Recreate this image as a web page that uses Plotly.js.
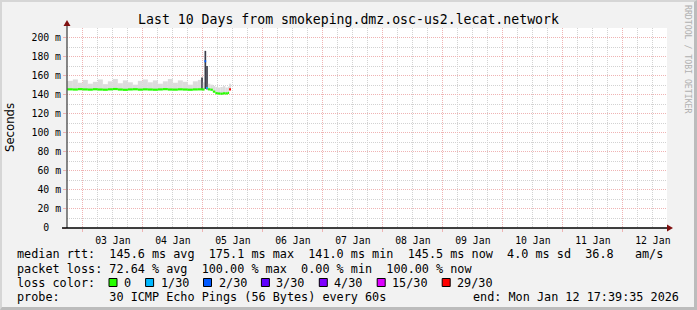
<!DOCTYPE html>
<html><head><meta charset="utf-8">
<script src="https://cdn.plot.ly/plotly-3.0.1.min.js"></script>
<style>
html,body{margin:0;padding:0;background:#f2f2f2;overflow:hidden}
#chart{width:697px;height:310px;position:absolute;left:0;top:0}
#frame{position:absolute;left:0;top:0;width:697px;height:310px;box-sizing:border-box;border:2px solid #d6d6d6;border-right:3px solid #bcbcbc;border-bottom:3px solid #bcbcbc;pointer-events:none}
</style>
</head><body>
<div id="chart"></div><div id="frame"></div>
<script>
// ---- data ----
const titleText = "Last 10 Days from smokeping.dmz.osc-us2.lecat.network";
const yAxisTitle = "Seconds";
const rangeStart = "2026-01-02 17:39:35";
const rangeEnd = "2026-01-12 17:39:35";
const firstMidnight = "2026-01-03 00:00:00";
const yTickVals = [0, 20, 40, 60, 80, 100, 120, 140, 160, 180, 200];
const yTickText = ["0\u00A0\u00A0", "20 m", "40 m", "60 m", "80 m", "100 m", "120 m", "140 m", "160 m", "180 m", "200 m"];

const times = [
  "2026-01-02 17:40", "2026-01-02 20:00", "2026-01-02 22:00",
  "2026-01-03 00:00", "2026-01-03 02:00", "2026-01-03 04:00", "2026-01-03 06:00",
  "2026-01-03 08:00", "2026-01-03 10:00", "2026-01-03 12:00", "2026-01-03 14:00",
  "2026-01-03 16:00", "2026-01-03 18:00", "2026-01-03 20:00", "2026-01-03 22:00",
  "2026-01-04 00:00", "2026-01-04 02:00", "2026-01-04 04:00", "2026-01-04 06:00",
  "2026-01-04 08:00", "2026-01-04 10:00", "2026-01-04 12:00", "2026-01-04 14:00",
  "2026-01-04 16:00", "2026-01-04 18:00", "2026-01-04 20:00", "2026-01-04 22:00",
  "2026-01-04 23:20",
  "2026-01-05 00:00", "2026-01-05 00:40", "2026-01-05 01:20", "2026-01-05 02:00",
  "2026-01-05 03:00", "2026-01-05 04:00", "2026-01-05 05:00", "2026-01-05 06:00",
  "2026-01-05 07:00", "2026-01-05 08:00", "2026-01-05 09:00", "2026-01-05 10:00",
  "2026-01-05 10:30"
];
const dataEnd = "2026-01-05 11:15";
const median = [
  145.6, 145.4, 145.8,
  145.5, 145.3, 145.7, 145.4,
  145.2, 145.6, 145.9, 145.4,
  145.1, 145.5, 145.7, 145.3,
  145.6, 145.4, 145.2, 145.5,
  145.8, 145.4, 145.3, 145.6,
  145.4, 145.2, 145.5, 145.6,
  145.5,
  145.4, 175.1, 147.0, 145.6,
  145.2, 143.2, 141.5, 141.2,
  141.0, 141.4, 141.3, 141.8,
  145.5
];
const smokeLow = [
  145.0, 144.8, 145.2,
  145.0, 144.7, 145.1, 144.9,
  144.6, 145.0, 145.3, 144.8,
  144.5, 144.9, 145.1, 144.7,
  145.0, 144.8, 144.6, 144.9,
  145.2, 144.8, 144.7, 145.0,
  144.8, 144.6, 144.9, 145.0,
  145.0,
  144.8, 146.0, 145.5, 145.0,
  144.6, 142.6, 140.9, 140.6,
  140.4, 140.8, 140.7, 141.2,
  144.9
];
const smokeHigh = [
  154.5, 156.0, 152.5,
  155.5, 151.5, 153.5, 156.0,
  151.0, 154.0, 156.5, 152.0,
  155.0, 153.0, 150.5, 154.5,
  156.0, 153.0, 155.0, 151.5,
  154.0, 156.5, 152.5, 155.0,
  153.5, 150.5, 154.0, 155.5,
  158.0,
  153.0, 186.0, 170.0, 151.5,
  150.5, 149.0, 148.0, 147.5,
  148.0, 149.0, 147.5, 148.5,
  151.5
];
const lossCount = [
  0, 0, 0,
  0, 0, 0, 0,
  0, 0, 0, 0,
  0, 0, 0, 0,
  0, 0, 0, 0,
  0, 0, 0, 0,
  0, 0, 0, 0,
  0,
  0, 2, 1, 0,
  0, 0, 0, 0,
  0, 0, 0, 0,
  29
];
const lossLevels = [0, 1, 2, 3, 4, 15, 29];
const lossLabels = ["0", "1/30", "2/30", "3/30", "4/30", "15/30", "29/30"];
const lossColors = ["#26ff00", "#00b8ff", "#0059ff", "#5e00ff", "#7e00ff", "#dd00ff", "#ff0000"];
const statsRtt = "median rtt:  145.6 ms avg  175.1 ms max  141.0 ms min  145.5 ms now  4.0 ms sd  36.8   am/s";
const statsLoss = "packet loss: 72.64 % avg  100.00 % max  0.00 % min  100.00 % now";
const lossTitle = "loss color:";
const probeText = "probe:       30 ICMP Echo Pings (56 Bytes) every 60s";
const endText = "end: Mon Jan 12 17:39:35 2026";
const watermark = "RRDTOOL / TOBI OETIKER";

// ---- layout helpers ----
const L = 67, T = 28, W = 600, H = 200;
const FW = 697, FH = 310;
const px = v => (v - L) / W;
const py = v => (T + H - v) / H;
const mono = "DejaVu Sans Mono, monospace";
const nb = s => s.replace(/ /g, "\u00A0");

function toMs(s) { return new Date(s.replace(" ", "T") + ":00Z").getTime(); }
const widths = times.map((t, i) => (i < times.length - 1 ? toMs(times[i + 1]) : toMs(dataEnd)) - toMs(t));
function lossColor(c) {
  let col = lossColors[0];
  lossLevels.forEach((lv, i) => { if (c >= lv) col = lossColors[i]; });
  return col;
}
// narrow, tall smoke columns look dense/dark in smokeping
const smokeColor = smokeHigh.map((h, i) => (h - smokeLow[i]) >= 12 ? "#3c3c48" : "#dcdcdc");
const LINE_T = 2.3; // median line thickness in ms (about 2 px)

const traces = [
  {
    type: "bar", x: times, base: smokeLow,
    y: smokeHigh.map((h, i) => h - smokeLow[i]),
    width: widths, offset: 0,
    marker: {color: smokeColor, line: {width: 0}},
    hoverinfo: "skip", showlegend: false
  },
  {
    type: "bar", x: times, base: median.map(m => m - LINE_T / 2),
    y: median.map(() => LINE_T),
    width: widths, offset: 0,
    marker: {color: lossCount.map(lossColor), line: {width: 0}},
    hoverinfo: "skip", showlegend: false
  }
];

const grey = "#d2d2d2", red = "#efb3b3";
const shapes = [
  {type: "line", xref: "paper", yref: "paper", x0: px(L), x1: px(L), y0: py(T + H), y1: py(25), line: {color: "#555", width: 1.4}},
  {type: "line", xref: "paper", yref: "paper", x0: px(62), x1: px(668), y0: 0, y1: 0, line: {color: "#000", width: 1.4}},
  {type: "path", xref: "paper", yref: "paper",
   path: `M ${px(L)} ${py(20)} L ${px(L - 3.5)} ${py(26)} L ${px(L + 3.5)} ${py(26)} Z`,
   fillcolor: "#7f1010", line: {width: 0}},
  {type: "path", xref: "paper", yref: "paper",
   path: `M ${px(673)} ${py(T + H)} L ${px(667)} ${py(T + H - 3.5)} L ${px(667)} ${py(T + H + 3.5)} Z`,
   fillcolor: "#7f1010", line: {width: 0}}
];

const annotations = [];
function addText(text, x, y, opts) {
  annotations.push(Object.assign({
    text: nb(text), xref: "paper", yref: "paper", x: px(x), y: py(y),
    xanchor: "left", yanchor: "middle", showarrow: false, borderpad: 0,
    font: {family: mono, size: 11.8, color: "#000"}
  }, opts || {}));
}
addText(statsRtt, 16, 254);
addText(statsLoss, 16, 268.5);
addText(lossTitle, 16, 282.5);
addText(probeText, 16, 296.8);
addText(endText, 680, 296.8, {xanchor: "right"});

// loss colour legend
const CW = 7.1;
let sx = 109;
lossLabels.forEach((lab, i) => {
  shapes.push({type: "rect", xref: "paper", yref: "paper",
    x0: px(sx), x1: px(sx + 8), y0: py(278.5), y1: py(286.5),
    fillcolor: lossColors[i], line: {color: "#000", width: 1}});
  addText(lab, sx + 14, 282.5);
  sx = sx + 14 + lab.length * CW + 15.5;
});

annotations.push({
  text: yAxisTitle, xref: "paper", yref: "paper", x: px(10), y: py(128),
  xanchor: "center", yanchor: "middle", textangle: -90, showarrow: false,
  font: {family: "DejaVu Sans, sans-serif", size: 11.7, color: "#000"}
});
annotations.push({
  text: nb(watermark), xref: "paper", yref: "paper", x: px(688), y: py(59),
  xanchor: "center", yanchor: "middle", textangle: 90, showarrow: false,
  font: {family: mono, size: 8.2, color: "#b0b0b0"}
});

const layout = {
  width: FW, height: FH,
  margin: {l: L, r: FW - L - W, t: T, b: FH - T - H, pad: 0},
  paper_bgcolor: "#f2f2f2", plot_bgcolor: "#ffffff",
  showlegend: false, barmode: "overlay",
  title: {text: titleText, font: {family: mono, size: 13.2, color: "#000"},
    x: 0.5, xref: "container", xanchor: "center", y: 1 - 19 / FH, yref: "container", yanchor: "middle"},
  xaxis: {
    type: "date", range: [rangeStart, rangeEnd], fixedrange: true,
    tick0: firstMidnight, dtick: 86400000, ticklabelmode: "period", tickformat: "%d %b",
    ticks: "outside", ticklen: 3, tickcolor: red, tickwidth: 1,
    showgrid: true, gridcolor: red, griddash: "1px,1px", gridwidth: 1,
    minor: {dtick: 21600000, tick0: firstMidnight, showgrid: true, gridcolor: grey, griddash: "1px,1px", gridwidth: 1, ticks: ""},
    showline: false, zeroline: false,
    tickfont: {family: mono, size: 9.8, color: "#000"}
  },
  yaxis: {
    range: [0, 210], fixedrange: true,
    tickmode: "array", tickvals: yTickVals, ticktext: yTickText,
    ticks: "outside", ticklen: 3, tickcolor: red, tickwidth: 1,
    showgrid: true, gridcolor: red, griddash: "1px,1px", gridwidth: 1,
    minor: {tickmode: "linear", tick0: 0, dtick: 10, showgrid: true, gridcolor: grey, griddash: "1px,1px", gridwidth: 1, ticks: ""},
    showline: false, zeroline: false,
    tickfont: {family: mono, size: 9.8, color: "#000"}
  },
  shapes: shapes,
  annotations: annotations
};

Plotly.newPlot("chart", traces, layout, {staticPlot: true, displayModeBar: false});
</script>
</body></html>
